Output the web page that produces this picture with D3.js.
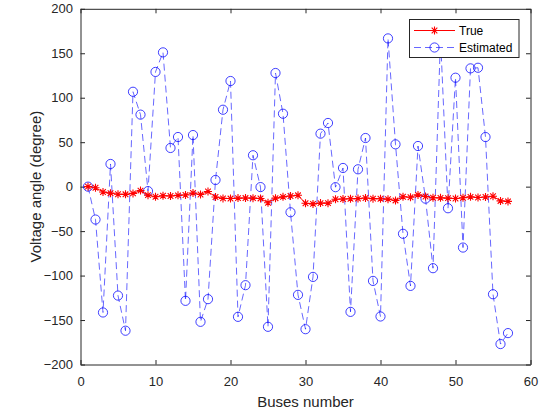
<!DOCTYPE html>
<html>
<head>
<meta charset="utf-8">
<script src="https://cdn.jsdelivr.net/npm/d3@7"></script>
<style>
  html, body { margin: 0; padding: 0; background: #fff; }
  svg { display: block; font-family: "Liberation Sans", Arial, Helvetica, sans-serif; }
</style>
</head>
<body>
<svg id="chart" width="544" height="412"></svg>
<script>
// Bus indices 1..57
const buses = d3.range(1, 58);

// True voltage angles (degrees)
const trueAngles = [
  0, -1.19, -5.99, -7.32, -8.52, -8.65, -7.58, -4.45, -9.56, -11.43,
  -10.17, -10.46, -9.79, -9.33, -7.18, -8.85, -5.39, -11.71, -13.20, -13.41,
  -12.89, -12.84, -12.91, -13.25, -18.13, -12.95, -11.48, -10.45, -9.75, -18.72,
  -19.38, -18.51, -18.55, -14.15, -13.91, -13.64, -13.45, -12.74, -13.49, -13.62,
  -14.05, -15.50, -11.33, -11.86, -9.25, -11.09, -12.49, -12.59, -12.92, -13.39,
  -12.52, -11.47, -12.23, -11.69, -10.78, -16.04, -16.56
];

// Estimated voltage angles (degrees)
const estAngles = [
  0, -37, -141.5, 25.5, -122.5, -162, 106.7, 81, -5, 129,
  151, 43.5, 55.8, -128.4, 58, -152, -126.5, 7.5, 86.5, 118.8,
  -146.4, -110.8, 35.3, -0.5, -157.6, 127.8, 82, -28.8, -121.7, -160.3,
  -101.5, 59.6, 71.6, -0.6, 21, -140.8, 19.5, 54.7, -106, -146,
  166.7, 47.6, -53, -111.6, 45.7, -13.5, -91.7, 168, -24.3, 122.5,
  -68.5, 133, 133.7, 55.8, -121, -177, -164.7
];

const xTicks = [0, 10, 20, 30, 40, 50, 60];
const yTicks = [-200, -150, -100, -50, 0, 50, 100, 150, 200];
const seriesNames = ["True", "Estimated"];

const svg = d3.select("#chart");
const plotLeft = 80.5, plotRight = 530.5, plotTop = 8.8, plotBottom = 364.5;
const axisColor = "#262626";

const x = d3.scaleLinear().domain([0, 60]).range([plotLeft, plotRight]);
const y = d3.scaleLinear().domain([-200, 200]).range([plotBottom, plotTop]);

// Axes with inward ticks on all four sides
const tickLen = 4.5;
const gx = svg.append("g").attr("transform", `translate(0,${plotBottom})`)
  .call(d3.axisBottom(x).tickValues(xTicks).tickSizeInner(-tickLen).tickSizeOuter(0).tickPadding(12));
const gxTop = svg.append("g").attr("transform", `translate(0,${plotTop})`)
  .call(d3.axisTop(x).tickValues(xTicks).tickSizeInner(-tickLen).tickSizeOuter(0).tickFormat(""));
const gy = svg.append("g").attr("transform", `translate(${plotLeft},0)`)
  .call(d3.axisLeft(y).tickValues(yTicks).tickSizeInner(-tickLen).tickSizeOuter(0).tickPadding(7.5));
const gyRight = svg.append("g").attr("transform", `translate(${plotRight},0)`)
  .call(d3.axisRight(y).tickValues(yTicks).tickSizeInner(-tickLen).tickSizeOuter(0).tickFormat(""));

[gx, gxTop, gy, gyRight].forEach(g => {
  g.select(".domain").attr("stroke", axisColor).attr("stroke-width", 1);
  g.selectAll(".tick line").attr("stroke", axisColor).attr("stroke-width", 1);
  g.selectAll(".tick text").attr("fill", axisColor).attr("font-size", "13px")
    .attr("font-family", "'Liberation Sans', Arial, sans-serif");
});

// Clip region for plotted data
svg.append("clipPath").attr("id", "plotClip")
  .append("rect").attr("x", plotLeft).attr("y", plotTop)
  .attr("width", plotRight - plotLeft).attr("height", plotBottom - plotTop);
const plot = svg.append("g").attr("clip-path", "url(#plotClip)");

const trueData = buses.map((b, i) => ({ b, v: trueAngles[i] }));
const estData = buses.map((b, i) => ({ b, v: estAngles[i] }));
const line = d3.line().x(d => x(d.b)).y(d => y(d.v));

// Estimated: blue dashed line with open circles
plot.append("path").datum(estData).attr("d", line)
  .attr("fill", "none").attr("stroke", "#0000ff").attr("stroke-width", 0.6)
  .attr("stroke-dasharray", "7,4");
plot.selectAll("circle.est").data(estData).join("circle").attr("class", "est")
  .attr("cx", d => x(d.b)).attr("cy", d => y(d.v)).attr("r", 4.6)
  .attr("fill", "none").attr("stroke", "#0000ff").attr("stroke-width", 0.75);

// True: red solid line with asterisks
plot.append("path").datum(trueData).attr("d", line)
  .attr("fill", "none").attr("stroke", "#ff0000").attr("stroke-width", 1);

function asterisk(g, cx, cy, r, color) {
  const d = r * Math.SQRT1_2;
  const p = `M${cx - r},${cy}L${cx + r},${cy}M${cx},${cy - r}L${cx},${cy + r}` +
            `M${cx - d},${cy - d}L${cx + d},${cy + d}M${cx - d},${cy + d}L${cx + d},${cy - d}`;
  g.append("path").attr("d", p).attr("stroke", color).attr("stroke-width", 1.1).attr("fill", "none");
}
trueData.forEach(d => asterisk(plot, x(d.b), y(d.v), 4, "#ff0000"));

// Axis labels
svg.append("text").attr("x", (plotLeft + plotRight) / 2).attr("y", 407)
  .attr("text-anchor", "middle").attr("font-size", "15px").attr("fill", axisColor)
  .text("Buses number");
svg.append("text").attr("transform", `translate(40.5,${(plotTop + plotBottom) / 2}) rotate(-90)`)
  .attr("text-anchor", "middle").attr("font-size", "15px").attr("fill", axisColor)
  .text("Voltage angle (degree)");

// Legend
const lg = svg.append("g");
lg.append("rect").attr("x", 409.5).attr("y", 19.5).attr("width", 109.5).attr("height", 38)
  .attr("fill", "#fff").attr("stroke", axisColor).attr("stroke-width", 1);
const ly1 = 30.5, ly2 = 47.5;
lg.append("line").attr("x1", 414).attr("x2", 455).attr("y1", ly1).attr("y2", ly1)
  .attr("stroke", "#ff0000").attr("stroke-width", 1);
asterisk(lg, 434.5, ly1, 4, "#ff0000");
lg.append("line").attr("x1", 414).attr("x2", 455).attr("y1", ly2).attr("y2", ly2)
  .attr("stroke", "#0000ff").attr("stroke-width", 0.6).attr("stroke-dasharray", "7,4");
lg.append("circle").attr("cx", 434.5).attr("cy", ly2).attr("r", 4.6)
  .attr("fill", "none").attr("stroke", "#0000ff").attr("stroke-width", 0.75);
lg.append("text").attr("x", 459).attr("y", ly1 + 4.3).attr("font-size", "12px").attr("fill", "#000").text(seriesNames[0]);
lg.append("text").attr("x", 459).attr("y", ly2 + 4.3).attr("font-size", "12px").attr("fill", "#000").text(seriesNames[1]);
</script>
</body>
</html>
